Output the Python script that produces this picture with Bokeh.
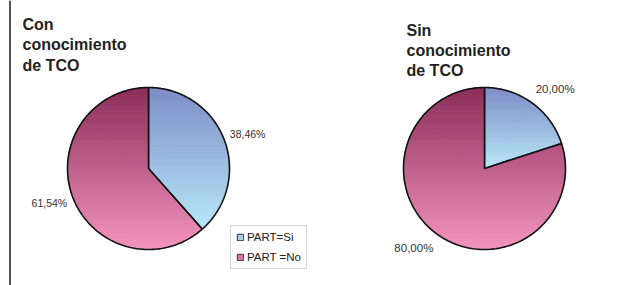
import numpy as np
from bokeh.plotting import figure
from bokeh.models import Range1d, Legend, LegendItem, ColumnDataSource
from bokeh.core.properties import value
from bokeh.embed import file_html
from bokeh.resources import INLINE

# ---- data ----
titles = ["Con\nconocimiento\nde TCO", "Sin\nconocimiento\nde TCO"]
categories = ["PART=Si", "PART =No"]
si_pct = [38.46, 20.00]
no_pct = [61.54, 80.00]

# ---- style ----
W, H = 622, 285
FONT = "Liberation Sans"
grad_si = ("#7d8cc6", "#b8e8f8")
grad_no = ("#8a2d5a", "#f494bf")
legend_si = "#a9cfe8"
legend_no = "#e0739f"

centers = [(148, 168), (484, 168)]   # page pixel positions
radius = 81
title_pos = [(22, 15.5), (406, 21)]
label_sizes = ["10.5px", "11.5px"]


def py(y):  # page y -> data y
    return H - y


p = figure(width=W, height=H, output_backend="svg", toolbar_location=None,
           x_range=Range1d(0, W), y_range=Range1d(0, H),
           min_border=0, outline_line_color=None)
p.axis.visible = False
p.grid.visible = False

# left vertical rule
p.segment(x0=[9.5], y0=[py(0)], x1=[9.5], y1=[py(H)], line_color="#555555", line_width=2)


def hex2rgb(h):
    h = h.lstrip("#")
    return np.array([int(h[i:i + 2], 16) for i in (0, 2, 4)], dtype=float)


def rgb2hex(c):
    return "#%02x%02x%02x" % tuple(int(round(v)) for v in c)


def clip(poly, y0, keep_above):
    out = []
    n = len(poly)
    for i in range(n):
        a = poly[i]
        b = poly[(i + 1) % n]
        ina = a[1] >= y0 if keep_above else a[1] <= y0
        inb = b[1] >= y0 if keep_above else b[1] <= y0
        if ina:
            out.append(a)
        if ina != inb:
            t = (y0 - a[1]) / (b[1] - a[1])
            out.append((a[0] + t * (b[0] - a[0]), y0))
    return out


def wedge_poly(cx, cy, r, a0, a1, n=200):
    angs = np.linspace(a0, a1, n)
    return [(cx, cy)] + [(cx + r * np.cos(a), cy + r * np.sin(a)) for a in angs]


def draw_gradient_wedge(cx, cy, r, a0, a1, cols, nb=80):
    full = wedge_poly(cx, cy, r, a0, a1)
    ys = [q[1] for q in full]
    ymin, ymax = min(ys), max(ys)
    ctop, cbot = hex2rgb(cols[0]), hex2rgb(cols[1])
    edges = np.linspace(ymin, ymax, nb + 1)
    nsub = int(np.ceil((a1 - a0) / (np.pi / 3)))
    cuts = np.linspace(a0, a1, nsub + 1)
    xs_l, ys_l, cl = [], [], []
    for s in range(nsub):
        poly = wedge_poly(cx, cy, r, cuts[s], cuts[s + 1], 60)
        for i in range(nb):
            lo, hi = edges[i], edges[i + 1]
            part = clip(clip(poly, lo, True), hi, False)
            if len(part) < 3:
                continue
            t = 1 - ((lo + hi) / 2 - ymin) / (ymax - ymin)  # 0 at top
            c = rgb2hex(ctop + (cbot - ctop) * t)
            xs_l.append([q[0] for q in part])
            ys_l.append([q[1] for q in part])
            cl.append(c)
    p.patches(xs=xs_l, ys=ys_l, fill_color=cl, line_color=cl, line_width=0.8)
    p.patches(xs=[[q[0] for q in full]], ys=[[q[1] for q in full]],
              fill_color=None, line_color="#111111", line_width=1.6)


for k in range(2):
    cx, cy = centers[k][0], py(centers[k][1])
    vals = [si_pct[k], no_pct[k]]
    total = sum(vals)
    start = np.pi / 2
    grads = [grad_si, grad_no]
    for j, v in enumerate(vals):
        sweep = 2 * np.pi * v / total
        end = start - sweep
        draw_gradient_wedge(cx, cy, radius, end, start, grads[j])
        mid = (start + end) / 2
        dx, dy = np.cos(mid), np.sin(mid)
        lx = cx + (radius + 6) * dx
        ly = cy + (radius + 6) * dy + 11 * dy
        label = ("%.2f%%" % v).replace(".", ",")
        p.text(x=[lx], y=[ly], text=[label], text_font=value(FONT),
               text_font_size=label_sizes[k], text_color="#333333",
               text_align="left" if dx > 0 else "right", text_baseline="middle")
        start = end
    tx, ty = title_pos[k]
    p.text(x=[tx], y=[py(ty)], text=[titles[k]], text_font=value(FONT),
           text_font_size="16px", text_font_style="bold", text_color="#222222",
           text_align="left", text_baseline="top", text_line_height=1.2)

# legend (renderers hold no visible marks; they only supply legend glyphs)
nan_src = ColumnDataSource(dict(left=[np.nan], right=[np.nan], top=[np.nan], bottom=[np.nan]))
r_si = p.quad(left="left", right="right", top="top", bottom="bottom", source=nan_src,
              fill_color=legend_si, line_color="#333333", line_width=1)
r_no = p.quad(left="left", right="right", top="top", bottom="bottom", source=nan_src,
              fill_color=legend_no, line_color="#333333", line_width=1)
legend = Legend(items=[LegendItem(label=categories[0], renderers=[r_si]),
                       LegendItem(label=categories[1], renderers=[r_no])],
                location=(230, 16), margin=0, padding=5, spacing=8,
                glyph_width=8, glyph_height=8, label_height=12, label_standoff=3,
                label_text_font=FONT, label_text_font_size="11.5px",
                label_text_color="#222222", border_line_color="#aaaaaa",
                border_line_width=1, background_fill_alpha=1)
p.add_layout(legend, "center")

open("out.html", "w").write(file_html(p, INLINE))
